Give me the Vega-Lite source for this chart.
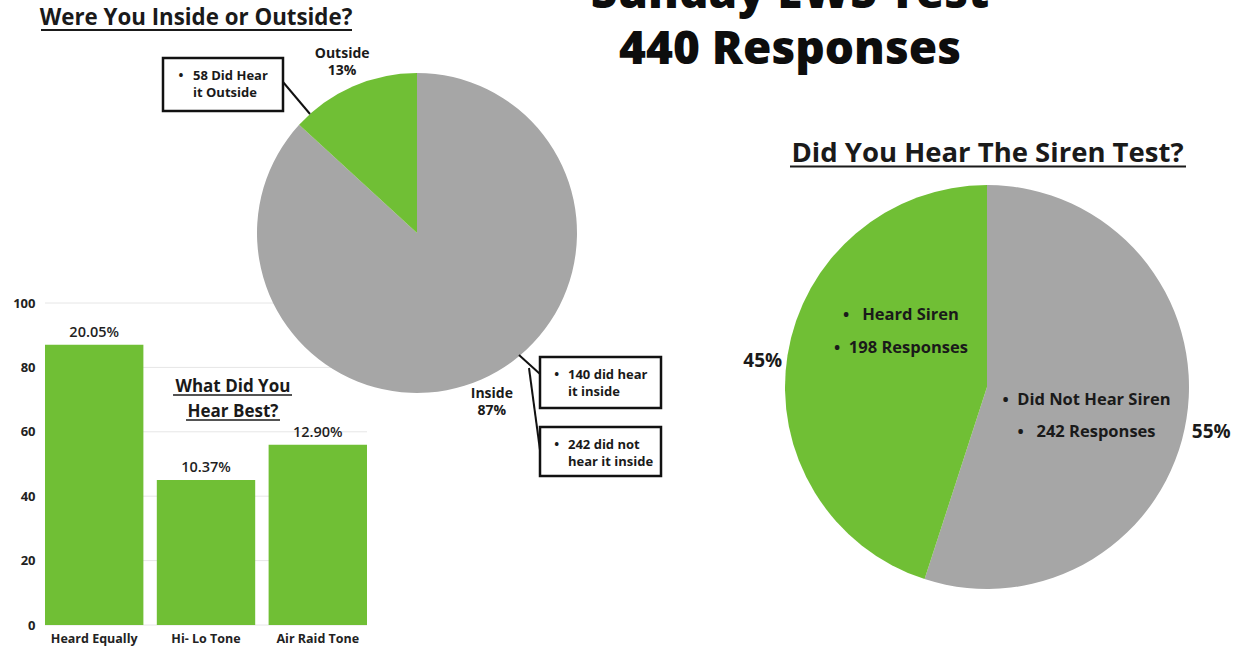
{
  "$schema": "https://vega.github.io/schema/vega-lite/v6.json",
  "width": 1243,
  "height": 646,
  "autosize": {"type": "none"},
  "padding": 0,
  "background": "white",
  "config": {"view": {"stroke": null}, "text": {"font": "Open Sans"}},
  "datasets": {
    "charts": [
      {"role": "main", "chart": "Sunday EWS Test\n440 Responses"},
      {"role": "inout", "chart": "Were You Inside or Outside?"},
      {"role": "siren", "chart": "Did You Hear The Siren Test?"},
      {"role": "tone", "chart": "What Did You\nHear Best?"}
    ],
    "inout": [
      {"chart": "Were You Inside or Outside?", "answer": "Inside", "responses": 382, "label": "Inside\n87%"},
      {"chart": "Were You Inside or Outside?", "answer": "Outside", "responses": 58, "label": "Outside\n13%"}
    ],
    "callouts": [
      {"id": "out", "note": "58 Did Hear\nit Outside"},
      {"id": "in-heard", "note": "140 did hear\nit inside"},
      {"id": "in-not", "note": "242 did not\nhear it inside"}
    ],
    "siren": [
      {"chart": "Did You Hear The Siren Test?", "answer": "Did Not Hear Siren", "responses": 242, "pct": "55%", "note": "\u2022\u00a0\u00a0Did Not Hear Siren\n\u2022\u00a0\u00a0\u00a0242 Responses"},
      {"chart": "Did You Hear The Siren Test?", "answer": "Heard Siren", "responses": 198, "pct": "45%", "note": "\u2022\u00a0\u00a0\u00a0Heard Siren\n\u2022\u00a0\u00a0198 Responses"}
    ],
    "tone": [
      {"tone": "Heard Equally", "responses": 87, "share": 0.2005},
      {"tone": "Hi- Lo Tone", "responses": 45, "share": 0.1037},
      {"tone": "Air Raid Tone", "responses": 56, "share": 0.129}
    ],
    "ticks": [{"tick": 0}, {"tick": 20}, {"tick": 40}, {"tick": 60}, {"tick": 80}, {"tick": 100}]
  },
  "layer": [
    {
      "data": {"name": "ticks"},
      "mark": {"type": "rule", "color": "#e6e6e6", "strokeWidth": 1},
      "encoding": {
        "y": {"field": "tick", "type": "quantitative", "scale": {"type": "linear", "domain": [0, 100], "range": [625, 303], "nice": false, "zero": false}, "axis": null},
        "x": {"datum": "Heard Equally", "type": "nominal", "bandPosition": 0, "scale": {"type": "band", "domain": ["Heard Equally", "Hi- Lo Tone", "Air Raid Tone"], "range": [45, 367], "paddingInner": 0.12, "paddingOuter": 0}, "axis": null},
        "x2": {"datum": "Air Raid Tone", "bandPosition": 1}
      }
    },
    {
      "data": {"name": "tone"},
      "mark": {"type": "bar", "color": "#70bf35"},
      "encoding": {
        "x": {"field": "tone", "type": "nominal", "sort": null, "scale": {"type": "band", "domain": ["Heard Equally", "Hi- Lo Tone", "Air Raid Tone"], "range": [45, 367], "paddingInner": 0.12, "paddingOuter": 0},
          "axis": {"orient": "bottom", "offset": -21, "domain": false, "ticks": false, "tickSize": 0, "grid": false, "labelFont": "Open Sans", "labelFontSize": 12.5, "labelFontWeight": "bold", "labelColor": "#222222", "labelPadding": 7, "labelAngle": 0, "title": null}},
        "y": {"field": "responses", "type": "quantitative", "scale": {"type": "linear", "domain": [0, 100], "range": [625, 303], "nice": false, "zero": false},
          "axis": {"orient": "left", "offset": -45, "values": [0, 20, 40, 60, 80, 100], "domain": false, "ticks": false, "tickSize": 0, "grid": false, "labelFont": "Open Sans", "labelFontSize": 13, "labelFontWeight": "bold", "labelColor": "#222222", "labelPadding": 10, "title": null}}
      }
    },
    {
      "data": {"name": "tone"},
      "mark": {"type": "text", "font": "Open Sans", "fontSize": 14.5, "fontWeight": 600, "color": "#1f1f1f", "baseline": "middle", "dy": -12},
      "encoding": {
        "x": {"field": "tone", "type": "nominal", "scale": {"type": "band", "domain": ["Heard Equally", "Hi- Lo Tone", "Air Raid Tone"], "range": [45, 367], "paddingInner": 0.12, "paddingOuter": 0}, "axis": null},
        "y": {"field": "responses", "type": "quantitative", "scale": {"type": "linear", "domain": [0, 100], "range": [625, 303], "nice": false, "zero": false}, "axis": null},
        "text": {"field": "share", "type": "quantitative", "format": ".2%"}
      }
    },
    {
      "data": {"name": "charts"},
      "transform": [{"filter": "datum.role === 'tone'"}],
      "mark": {"type": "text", "font": "Open Sans", "fontSize": 17, "fontWeight": "bold", "color": "#1a1a1a", "align": "center", "baseline": "top", "lineHeight": 25, "lineBreak": "\n"},
      "encoding": {
        "x": {"datum": "Hi- Lo Tone", "type": "nominal", "bandPosition": 0.774, "scale": {"type": "band", "domain": ["Heard Equally", "Hi- Lo Tone", "Air Raid Tone"], "range": [45, 367], "paddingInner": 0.12, "paddingOuter": 0}, "axis": null},
        "y": {"datum": 76.5, "type": "quantitative", "scale": {"type": "linear", "domain": [0, 100], "range": [625, 303], "nice": false, "zero": false}, "axis": null},
        "text": {"field": "chart", "type": "nominal"}
      }
    },
    {
      "data": {"name": "charts"},
      "transform": [{"filter": "datum.role === 'tone'"}],
      "mark": {"type": "rule", "color": "#1a1a1a", "strokeWidth": 1.5},
      "encoding": {
        "x": {"datum": "Hi- Lo Tone", "type": "nominal", "bandPosition": 0.165, "scale": {"type": "band", "domain": ["Heard Equally", "Hi- Lo Tone", "Air Raid Tone"], "range": [45, 367], "paddingInner": 0.12, "paddingOuter": 0}, "axis": null},
        "x2": {"datum": "Air Raid Tone", "bandPosition": 0.238},
        "y": {"datum": 71.43, "type": "quantitative", "scale": {"type": "linear", "domain": [0, 100], "range": [625, 303], "nice": false, "zero": false}, "axis": null}
      }
    },
    {
      "data": {"name": "charts"},
      "transform": [{"filter": "datum.role === 'tone'"}],
      "mark": {"type": "rule", "color": "#1a1a1a", "strokeWidth": 1.5},
      "encoding": {
        "x": {"datum": "Hi- Lo Tone", "type": "nominal", "bandPosition": 0.297, "scale": {"type": "band", "domain": ["Heard Equally", "Hi- Lo Tone", "Air Raid Tone"], "range": [45, 367], "paddingInner": 0.12, "paddingOuter": 0}, "axis": null},
        "x2": {"datum": "Air Raid Tone", "bandPosition": 0.116},
        "y": {"datum": 63.66, "type": "quantitative", "scale": {"type": "linear", "domain": [0, 100], "range": [625, 303], "nice": false, "zero": false}, "axis": null}
      }
    },
    {
      "data": {"name": "inout"},
      "mark": {"type": "arc", "outerRadius": 160},
      "encoding": {
        "x": {"field": "chart", "type": "nominal", "scale": {"type": "point", "domain": ["Were You Inside or Outside?", "Did You Hear The Siren Test?"], "range": [417, 987], "padding": 0}, "axis": null},
        "y": {"field": "chart", "type": "nominal", "scale": {"type": "point", "domain": ["Were You Inside or Outside?", "Did You Hear The Siren Test?"], "range": [233, 387], "padding": 0}, "axis": null},
        "theta": {"field": "responses", "type": "quantitative", "stack": true},
        "order": {"field": "answer", "sort": "ascending"},
        "color": {"field": "answer", "type": "nominal", "scale": {"domain": ["Inside", "Outside"], "range": ["#a6a6a6", "#70bf35"]}, "legend": null}
      }
    },
    {
      "data": {"name": "inout"},
      "mark": {"type": "text", "radius": 186, "dy": -9, "font": "Open Sans", "fontSize": 14, "fontWeight": "bold", "color": "#1a1a1a", "align": "center", "baseline": "middle", "lineHeight": 17, "lineBreak": "\n"},
      "encoding": {
        "x": {"field": "chart", "type": "nominal", "scale": {"type": "point", "domain": ["Were You Inside or Outside?", "Did You Hear The Siren Test?"], "range": [417, 987], "padding": 0}, "axis": null},
        "y": {"field": "chart", "type": "nominal", "scale": {"type": "point", "domain": ["Were You Inside or Outside?", "Did You Hear The Siren Test?"], "range": [233, 387], "padding": 0}, "axis": null},
        "theta": {"field": "responses", "type": "quantitative", "stack": true},
        "order": {"field": "answer", "sort": "ascending"},
        "text": {"field": "label", "type": "nominal"}
      }
    },
    {
      "data": {"name": "callouts"},
      "transform": [{"filter": "datum.id === 'out'"}],
      "mark": {"type": "rule", "color": "#111111", "strokeWidth": 2},
      "encoding": {
        "x": {"datum": -0.8375, "type": "quantitative", "scale": {"type": "linear", "domain": [-1, 1], "range": [257, 577], "nice": false, "zero": false}, "axis": null},
        "x2": {"datum": -0.66875},
        "y": {"datum": 0.94375, "type": "quantitative", "scale": {"type": "linear", "domain": [-1, 1], "range": [393, 73], "nice": false, "zero": false}, "axis": null},
        "y2": {"datum": 0.74375}
      }
    },
    {
      "data": {"name": "callouts"},
      "transform": [{"filter": "datum.id === 'out'"}],
      "mark": {"type": "rect", "fill": "white", "stroke": "#111111", "strokeWidth": 2.5},
      "encoding": {
        "x": {"datum": -1.5875, "type": "quantitative", "scale": {"type": "linear", "domain": [-1, 1], "range": [257, 577], "nice": false, "zero": false}, "axis": null},
        "x2": {"datum": -0.8375},
        "y": {"datum": 1.09375, "type": "quantitative", "scale": {"type": "linear", "domain": [-1, 1], "range": [393, 73], "nice": false, "zero": false}, "axis": null},
        "y2": {"datum": 0.7625}
      }
    },
    {
      "data": {"name": "callouts"},
      "transform": [{"filter": "datum.id === 'out'"}],
      "mark": {"type": "text", "font": "Open Sans", "fontSize": 13, "fontWeight": "bold", "color": "#1a1a1a", "align": "left", "baseline": "middle", "lineHeight": 17, "lineBreak": "\n"},
      "encoding": {
        "x": {"datum": -1.4, "type": "quantitative", "scale": {"type": "linear", "domain": [-1, 1], "range": [257, 577], "nice": false, "zero": false}, "axis": null},
        "y": {"datum": 0.98125, "type": "quantitative", "scale": {"type": "linear", "domain": [-1, 1], "range": [393, 73], "nice": false, "zero": false}, "axis": null},
        "text": {"field": "note", "type": "nominal"}
      }
    },
    {
      "data": {"name": "callouts"},
      "transform": [{"filter": "datum.id === 'out'"}],
      "mark": {"type": "text", "text": "\u2022", "font": "Open Sans", "fontSize": 13, "fontWeight": "bold", "color": "#1a1a1a", "align": "center", "baseline": "middle"},
      "encoding": {
        "x": {"datum": -1.475, "type": "quantitative", "scale": {"type": "linear", "domain": [-1, 1], "range": [257, 577], "nice": false, "zero": false}, "axis": null},
        "y": {"datum": 0.98125, "type": "quantitative", "scale": {"type": "linear", "domain": [-1, 1], "range": [393, 73], "nice": false, "zero": false}, "axis": null}
      }
    },
    {
      "data": {"name": "callouts"},
      "transform": [{"filter": "datum.id === 'in-heard'"}],
      "mark": {"type": "rule", "color": "#111111", "strokeWidth": 2},
      "encoding": {
        "x": {"datum": 0.6375, "type": "quantitative", "scale": {"type": "linear", "domain": [-1, 1], "range": [257, 577], "nice": false, "zero": false}, "axis": null},
        "x2": {"datum": 0.76875},
        "y": {"datum": -0.7625, "type": "quantitative", "scale": {"type": "linear", "domain": [-1, 1], "range": [393, 73], "nice": false, "zero": false}, "axis": null},
        "y2": {"datum": -0.88125}
      }
    },
    {
      "data": {"name": "callouts"},
      "transform": [{"filter": "datum.id === 'in-not'"}],
      "mark": {"type": "rule", "color": "#111111", "strokeWidth": 2},
      "encoding": {
        "x": {"datum": 0.7, "type": "quantitative", "scale": {"type": "linear", "domain": [-1, 1], "range": [257, 577], "nice": false, "zero": false}, "axis": null},
        "x2": {"datum": 0.76875},
        "y": {"datum": -0.84375, "type": "quantitative", "scale": {"type": "linear", "domain": [-1, 1], "range": [393, 73], "nice": false, "zero": false}, "axis": null},
        "y2": {"datum": -1.35625}
      }
    },
    {
      "data": {"name": "callouts"},
      "transform": [{"filter": "datum.id === 'in-heard'"}],
      "mark": {"type": "rect", "fill": "white", "stroke": "#111111", "strokeWidth": 2.5},
      "encoding": {
        "x": {"datum": 0.76875, "type": "quantitative", "scale": {"type": "linear", "domain": [-1, 1], "range": [257, 577], "nice": false, "zero": false}, "axis": null},
        "x2": {"datum": 1.525},
        "y": {"datum": -0.775, "type": "quantitative", "scale": {"type": "linear", "domain": [-1, 1], "range": [393, 73], "nice": false, "zero": false}, "axis": null},
        "y2": {"datum": -1.09375}
      }
    },
    {
      "data": {"name": "callouts"},
      "transform": [{"filter": "datum.id === 'in-heard'"}],
      "mark": {"type": "text", "font": "Open Sans", "fontSize": 13, "fontWeight": "bold", "color": "#1a1a1a", "align": "left", "baseline": "middle", "lineHeight": 17, "lineBreak": "\n"},
      "encoding": {
        "x": {"datum": 0.94375, "type": "quantitative", "scale": {"type": "linear", "domain": [-1, 1], "range": [257, 577], "nice": false, "zero": false}, "axis": null},
        "y": {"datum": -0.8875, "type": "quantitative", "scale": {"type": "linear", "domain": [-1, 1], "range": [393, 73], "nice": false, "zero": false}, "axis": null},
        "text": {"field": "note", "type": "nominal"}
      }
    },
    {
      "data": {"name": "callouts"},
      "transform": [{"filter": "datum.id === 'in-heard'"}],
      "mark": {"type": "text", "text": "\u2022", "font": "Open Sans", "fontSize": 13, "fontWeight": "bold", "color": "#1a1a1a", "align": "center", "baseline": "middle"},
      "encoding": {
        "x": {"datum": 0.873, "type": "quantitative", "scale": {"type": "linear", "domain": [-1, 1], "range": [257, 577], "nice": false, "zero": false}, "axis": null},
        "y": {"datum": -0.8875, "type": "quantitative", "scale": {"type": "linear", "domain": [-1, 1], "range": [393, 73], "nice": false, "zero": false}, "axis": null}
      }
    },
    {
      "data": {"name": "callouts"},
      "transform": [{"filter": "datum.id === 'in-not'"}],
      "mark": {"type": "rect", "fill": "white", "stroke": "#111111", "strokeWidth": 2.5},
      "encoding": {
        "x": {"datum": 0.76875, "type": "quantitative", "scale": {"type": "linear", "domain": [-1, 1], "range": [257, 577], "nice": false, "zero": false}, "axis": null},
        "x2": {"datum": 1.525},
        "y": {"datum": -1.2125, "type": "quantitative", "scale": {"type": "linear", "domain": [-1, 1], "range": [393, 73], "nice": false, "zero": false}, "axis": null},
        "y2": {"datum": -1.51875}
      }
    },
    {
      "data": {"name": "callouts"},
      "transform": [{"filter": "datum.id === 'in-not'"}],
      "mark": {"type": "text", "font": "Open Sans", "fontSize": 13, "fontWeight": "bold", "color": "#1a1a1a", "align": "left", "baseline": "middle", "lineHeight": 17, "lineBreak": "\n"},
      "encoding": {
        "x": {"datum": 0.94375, "type": "quantitative", "scale": {"type": "linear", "domain": [-1, 1], "range": [257, 577], "nice": false, "zero": false}, "axis": null},
        "y": {"datum": -1.325, "type": "quantitative", "scale": {"type": "linear", "domain": [-1, 1], "range": [393, 73], "nice": false, "zero": false}, "axis": null},
        "text": {"field": "note", "type": "nominal"}
      }
    },
    {
      "data": {"name": "callouts"},
      "transform": [{"filter": "datum.id === 'in-not'"}],
      "mark": {"type": "text", "text": "\u2022", "font": "Open Sans", "fontSize": 13, "fontWeight": "bold", "color": "#1a1a1a", "align": "center", "baseline": "middle"},
      "encoding": {
        "x": {"datum": 0.873, "type": "quantitative", "scale": {"type": "linear", "domain": [-1, 1], "range": [257, 577], "nice": false, "zero": false}, "axis": null},
        "y": {"datum": -1.325, "type": "quantitative", "scale": {"type": "linear", "domain": [-1, 1], "range": [393, 73], "nice": false, "zero": false}, "axis": null}
      }
    },
    {
      "data": {"name": "charts"},
      "transform": [{"filter": "datum.role === 'inout'"}],
      "mark": {"type": "text", "font": "Open Sans", "fontSize": 22.3, "fontWeight": "bold", "color": "#1a1a1a", "align": "center", "baseline": "alphabetic"},
      "encoding": {
        "x": {"datum": -1.38125, "type": "quantitative", "scale": {"type": "linear", "domain": [-1, 1], "range": [257, 577], "nice": false, "zero": false}, "axis": null},
        "y": {"datum": 1.3, "type": "quantitative", "scale": {"type": "linear", "domain": [-1, 1], "range": [393, 73], "nice": false, "zero": false}, "axis": null},
        "text": {"field": "chart", "type": "nominal"}
      }
    },
    {
      "data": {"name": "charts"},
      "transform": [{"filter": "datum.role === 'inout'"}],
      "mark": {"type": "rule", "color": "#1a1a1a", "strokeWidth": 2},
      "encoding": {
        "x": {"datum": -2.35, "type": "quantitative", "scale": {"type": "linear", "domain": [-1, 1], "range": [257, 577], "nice": false, "zero": false}, "axis": null},
        "x2": {"datum": -0.40625},
        "y": {"datum": 1.26875, "type": "quantitative", "scale": {"type": "linear", "domain": [-1, 1], "range": [393, 73], "nice": false, "zero": false}, "axis": null}
      }
    },
    {
      "data": {"name": "siren"},
      "mark": {"type": "arc", "outerRadius": 202},
      "encoding": {
        "x": {"field": "chart", "type": "nominal", "scale": {"type": "point", "domain": ["Were You Inside or Outside?", "Did You Hear The Siren Test?"], "range": [417, 987], "padding": 0}, "axis": null},
        "y": {"field": "chart", "type": "nominal", "scale": {"type": "point", "domain": ["Were You Inside or Outside?", "Did You Hear The Siren Test?"], "range": [233, 387], "padding": 0}, "axis": null},
        "theta": {"field": "responses", "type": "quantitative", "stack": true},
        "order": {"field": "answer", "sort": "ascending"},
        "color": {"field": "answer", "type": "nominal", "scale": {"domain": ["Did Not Hear Siren", "Heard Siren"], "range": ["#a6a6a6", "#70bf35"]}, "legend": null}
      }
    },
    {
      "data": {"name": "siren"},
      "mark": {"type": "text", "radius": 227, "dy": 9.5, "font": "Open Sans", "fontSize": 19, "fontWeight": "bold", "color": "#1a1a1a", "align": "center", "baseline": "middle"},
      "encoding": {
        "x": {"field": "chart", "type": "nominal", "scale": {"type": "point", "domain": ["Were You Inside or Outside?", "Did You Hear The Siren Test?"], "range": [417, 987], "padding": 0}, "axis": null},
        "y": {"field": "chart", "type": "nominal", "scale": {"type": "point", "domain": ["Were You Inside or Outside?", "Did You Hear The Siren Test?"], "range": [233, 387], "padding": 0}, "axis": null},
        "theta": {"field": "responses", "type": "quantitative", "stack": true},
        "order": {"field": "answer", "sort": "ascending"},
        "text": {"field": "pct", "type": "nominal"}
      }
    },
    {
      "data": {"name": "siren"},
      "transform": [{"filter": "datum.answer === 'Heard Siren'"}],
      "mark": {"type": "text", "font": "Open Sans", "fontSize": 16.5, "fontWeight": "bold", "color": "#1a1a1a", "align": "center", "baseline": "middle", "lineHeight": 33, "lineBreak": "\n"},
      "encoding": {
        "x": {"datum": -0.42574, "type": "quantitative", "scale": {"type": "linear", "domain": [-1, 1], "range": [785, 1189], "nice": false, "zero": false}, "axis": null},
        "y": {"datum": 0.35644, "type": "quantitative", "scale": {"type": "linear", "domain": [-1, 1], "range": [589, 185], "nice": false, "zero": false}, "axis": null},
        "text": {"field": "note", "type": "nominal"}
      }
    },
    {
      "data": {"name": "siren"},
      "transform": [{"filter": "datum.answer === 'Did Not Hear Siren'"}],
      "mark": {"type": "text", "font": "Open Sans", "fontSize": 16.5, "fontWeight": "bold", "color": "#1a1a1a", "align": "center", "baseline": "middle", "lineHeight": 32, "lineBreak": "\n"},
      "encoding": {
        "x": {"datum": 0.49257, "type": "quantitative", "scale": {"type": "linear", "domain": [-1, 1], "range": [785, 1189], "nice": false, "zero": false}, "axis": null},
        "y": {"datum": -0.06436, "type": "quantitative", "scale": {"type": "linear", "domain": [-1, 1], "range": [589, 185], "nice": false, "zero": false}, "axis": null},
        "text": {"field": "note", "type": "nominal"}
      }
    },
    {
      "data": {"name": "charts"},
      "transform": [{"filter": "datum.role === 'siren'"}],
      "mark": {"type": "text", "font": "Open Sans", "fontSize": 27.5, "fontWeight": "bold", "color": "#1a1a1a", "align": "center", "baseline": "alphabetic"},
      "encoding": {
        "x": {"datum": 0.0025, "type": "quantitative", "scale": {"type": "linear", "domain": [-1, 1], "range": [785, 1189], "nice": false, "zero": false}, "axis": null},
        "y": {"datum": 1.11386, "type": "quantitative", "scale": {"type": "linear", "domain": [-1, 1], "range": [589, 185], "nice": false, "zero": false}, "axis": null},
        "text": {"field": "chart", "type": "nominal"}
      }
    },
    {
      "data": {"name": "charts"},
      "transform": [{"filter": "datum.role === 'siren'"}],
      "mark": {"type": "rule", "color": "#1a1a1a", "strokeWidth": 2.2},
      "encoding": {
        "x": {"datum": -0.97525, "type": "quantitative", "scale": {"type": "linear", "domain": [-1, 1], "range": [785, 1189], "nice": false, "zero": false}, "axis": null},
        "x2": {"datum": 0.98515},
        "y": {"datum": 1.09158, "type": "quantitative", "scale": {"type": "linear", "domain": [-1, 1], "range": [589, 185], "nice": false, "zero": false}, "axis": null}
      }
    },
    {
      "data": {"name": "charts"},
      "transform": [{"filter": "datum.role === 'main'"}],
      "mark": {"type": "text", "font": "Open Sans", "fontSize": 46, "fontWeight": 800, "color": "#0d0d0d", "align": "center", "baseline": "top", "lineHeight": 56, "lineBreak": "\n"},
      "encoding": {
        "x": {"datum": -0.97525, "type": "quantitative", "scale": {"type": "linear", "domain": [-1, 1], "range": [785, 1189], "nice": false, "zero": false}, "axis": null},
        "y": {"datum": 2.0559, "type": "quantitative", "scale": {"type": "linear", "domain": [-1, 1], "range": [589, 185], "nice": false, "zero": false}, "axis": null},
        "text": {"field": "chart", "type": "nominal"}
      }
    }
  ],
  "resolve": {
    "scale": {"x": "independent", "y": "independent", "theta": "independent", "color": "independent"},
    "axis": {"x": "independent", "y": "independent"}
  }
}
